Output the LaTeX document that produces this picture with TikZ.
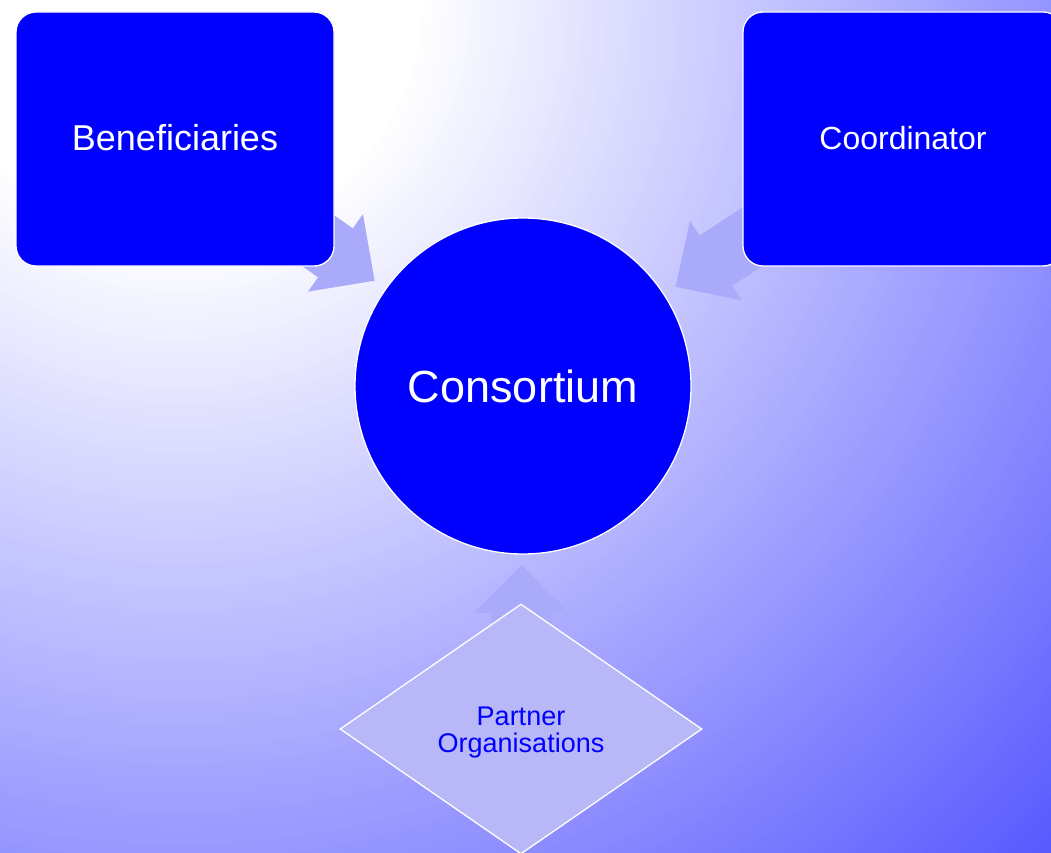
\documentclass[tikz,border=0pt]{standalone}
\usepackage{fontspec}
\setmainfont{Liberation Sans}
\usetikzlibrary{calc,shapes.geometric}
\definecolor{bgB}{RGB}{90,90,255}
\definecolor{boxblue}{RGB}{0,0,255}
\definecolor{arrowcol}{RGB}{170,170,250}
\definecolor{diafill}{RGB}{184,184,248}
\pgfdeclarelayer{bglayer}
\pgfdeclarelayer{arrlayer}
\pgfsetlayers{bglayer,arrlayer,main}
\newcommand\blockarrow[2]{%
  \path ($(#2)!48pt!(#1)$) coordinate (ba-b);
  \fill[arrowfill] ($(#1)!30pt!90:(#2)$) -- ($(ba-b)!30pt!90:(#2)$) -- ($(ba-b)!47.5pt!90:(#2)$) -- (#2)
    -- ($(ba-b)!47.5pt!-90:(#2)$) -- ($(ba-b)!30pt!-90:(#2)$) -- ($(#1)!30pt!-90:(#2)$) -- cycle;}
\tikzset{
  bluebox/.style={draw=white, line width=1.3pt, fill=boxblue, rounded corners=20pt, text=white,
    minimum width=318pt, minimum height=254pt, inner sep=0pt},
  centrecircle/.style={circle, draw=white, line width=1.3pt, fill=boxblue, text=white,
    minimum size=336pt, inner sep=0pt, font=\fontsize{45}{54}\selectfont},
  partner/.style={diamond, draw=white, line width=1.3pt, fill=diafill, text=boxblue,
    aspect=1.448, minimum width=362pt, minimum height=250pt, inner sep=0pt,
    font=\fontsize{27}{27}\selectfont},
  arrowfill/.style={fill=arrowcol},
}
\begin{document}
\begin{tikzpicture}[x=1pt,y=-1pt]
\useasboundingbox (0,0) rectangle (1051,853);
\begin{pgfonlayer}{bglayer}
  \begin{scope}
    \clip (0,0) rectangle (1051,853);
    \fill[bgB] (0,0) rectangle (1051,853);
    \coordinate (glow) at (179,0);
    \foreach \r [evaluate=\r as \f using {max(0,min(100,(\r-243)/9.76))}] in {1260,1252,...,236}{
      \fill[bgB!\f!white] (glow) circle [radius=\r pt];
    }
  \end{scope}
\end{pgfonlayer}
\node[bluebox, font=\fontsize{36}{43}\selectfont] (ben) at (175,139) {\raisebox{1.5pt}[\height][\depth]{Beneficiaries}};
\node[bluebox, minimum width=320pt, font=\fontsize{32}{38}\selectfont] (coord) at (903,139) {\raisebox{0.5pt}[\height][\depth]{Coordinator}};
\node[centrecircle] (cons) at (523,386) {Consortium};
\node[partner] (po) at (521,729) {\raisebox{-4.5pt}[\height][\depth]{\begin{tabular}{@{}c@{}}Partner\\Organisations\end{tabular}}};
\coordinate (tipB) at ($(cons.center)!182pt!(ben.center)$);
\coordinate (tipC) at ($(cons.center)!182pt!(coord.center)$);
\coordinate (tipP) at ($(cons.center)!179pt!(po.center)$);
\begin{pgfonlayer}{arrlayer}
  \blockarrow{ben.center}{tipB}
  \blockarrow{coord.center}{tipC}
  \blockarrow{po.center}{tipP}
\end{pgfonlayer}
\end{tikzpicture}
\end{document}
